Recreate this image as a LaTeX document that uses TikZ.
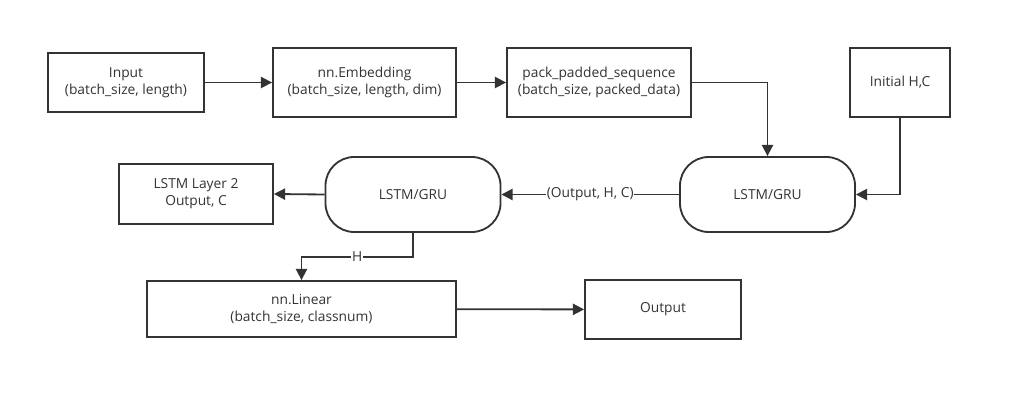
\documentclass[tikz,border=0pt]{standalone}
\usepackage{fontspec}
\setmainfont{Open Sans}
\usetikzlibrary{arrows.meta}
\definecolor{ink}{HTML}{333333}
\tikzset{
  box/.style={draw=ink, line width=1.3pt, align=center, inner sep=2pt,
    font=\fontsize{9.8}{12.2}\selectfont, text=ink},
  cell/.style={box, rounded corners=0.72cm, minimum width=4.375cm, minimum height=1.875cm},
  flow/.style={draw=ink, line width=1.3pt, -{Triangle[length=8pt,width=8pt]}},
  tag/.style={fill=white, inner sep=0.5pt, font=\fontsize{9.8}{12.2}\selectfont, text=ink}
}
\begin{document}
\begin{tikzpicture}[x=0.025cm, y=-0.025cm]
  \useasboundingbox (0,0) rectangle (1012,401);
  % top row
  \node [box, minimum width=3.9cm, minimum height=1.475cm] (input) at (126,82.5) {Input\\(batch\_size, length)};
  \node [box, minimum width=4.575cm, minimum height=1.725cm] (embed) at (364.5,82.5) {nn.Embedding\\(batch\_size, length, dim)};
  \node [box, minimum width=4.6cm, minimum height=1.725cm] (pack) at (599,82.5) {pack\_padded\_sequence\\(batch\_size, packed\_data)};
  \node [box, minimum width=2.5cm, minimum height=1.725cm] (init) at (900,82.5) {Initial H,C};
  % recurrent layers
  \node [cell] (rnnA) at (767.5,194.5) {LSTM/GRU};
  \node [cell] (rnnB) at (413,194.5) {LSTM/GRU};
  \node [box, minimum width=3.85cm, minimum height=1.5cm] (layer2) at (196,194) {LSTM Layer 2\\Output, C};
  % bottom row
  \node [box, minimum width=7.725cm, minimum height=1.4cm] (linear) at (301.5,309) {nn.Linear\\(batch\_size, classnum)};
  \node [box, minimum width=3.9cm, minimum height=1.475cm] (output) at (663,309.5) {Output};
  \coordinate (hbend) at (413,257);

  \draw [flow] (input) -- (embed);
  \draw [flow] (embed) -- (pack);
  \draw [flow] (pack.east) -| (rnnA.north);
  \draw [flow] (init.south) |- (rnnA.east);
  \draw [flow] (rnnA.west) -- node [tag] {(Output, H, C)} (rnnB.east);
  \draw [flow] (rnnB.west) -- (layer2.east);
  \draw [flow] (rnnB.south) -- (hbend) -| node [tag, pos=0.25] {H} (linear.north);
  \draw [flow] (linear) -- (output);
\end{tikzpicture}
\end{document}
